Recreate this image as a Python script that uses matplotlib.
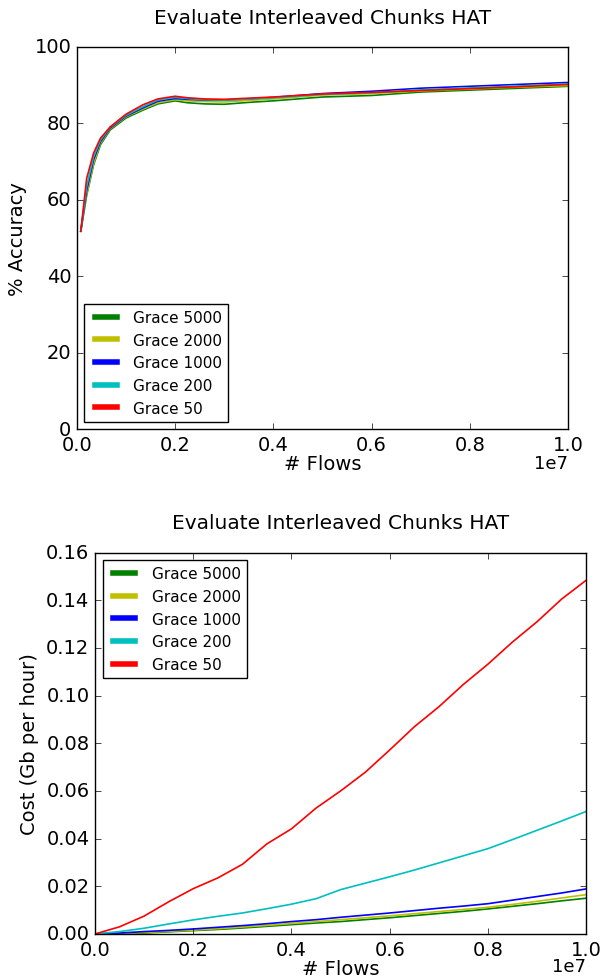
import matplotlib
matplotlib.use('Agg')
import matplotlib.pyplot as plt

plt.style.use('classic')

# top chart: accuracy vs flows
acc_x = [0.008, 0.02, 0.034, 0.048, 0.068, 0.1, 0.135, 0.165, 0.2, 0.225, 0.26,
         0.3, 0.35, 0.4, 0.45, 0.5, 0.55, 0.6, 0.7, 0.8, 0.9, 1.0]
acc_5000 = [51.8, 61.2, 69.1, 74.4, 78.3, 81.4, 83.5, 85.1, 85.9, 85.4, 85.1,
            85.0, 85.5, 85.9, 86.4, 86.9, 87.1, 87.3, 88.2, 88.7, 89.2, 89.7]
acc_2000 = [51.8, 61.5, 69.5, 74.8, 78.6, 81.7, 83.8, 85.4, 86.2, 85.9, 85.7,
            85.6, 86.0, 86.4, 86.9, 87.4, 87.6, 87.8, 88.5, 89.0, 89.5, 89.9]
acc_1000 = [51.8, 62.5, 70.5, 75.2, 78.8, 81.9, 84.1, 85.8, 86.5, 86.3, 86.1,
            86.1, 86.4, 86.8, 87.3, 87.8, 88.1, 88.4, 89.2, 89.7, 90.2, 90.7]
acc_200 = [51.8, 63.5, 71.2, 75.6, 79.0, 82.1, 84.4, 86.1, 86.8, 86.5, 86.2,
           86.1, 86.4, 86.7, 87.1, 87.6, 87.8, 88.0, 88.8, 89.3, 89.8, 90.3]
acc_50 = [51.8, 65.6, 72.2, 76.1, 79.1, 82.4, 84.9, 86.4, 87.1, 86.7, 86.4,
          86.3, 86.6, 86.9, 87.3, 87.7, 87.9, 88.1, 88.6, 89.1, 89.6, 90.2]

# bottom chart: cost vs flows
cost_x = [0, 0.05, 0.1, 0.15, 0.2, 0.25, 0.3, 0.35, 0.4, 0.45, 0.5,
          0.55, 0.6, 0.65, 0.7, 0.75, 0.8, 0.85, 0.9, 0.95, 1.0]
cost_5000 = [0, 0.0001, 0.0004, 0.0009, 0.0014, 0.0019, 0.0025, 0.0032, 0.0039, 0.0046, 0.0052,
             0.0060, 0.0068, 0.0077, 0.0086, 0.0095, 0.0105, 0.0116, 0.0127, 0.0139, 0.0150]
cost_2000 = [0, 0.0002, 0.0006, 0.0011, 0.0016, 0.0022, 0.0029, 0.0036, 0.0044, 0.0052, 0.0060,
             0.0068, 0.0076, 0.0085, 0.0094, 0.0103, 0.0112, 0.0124, 0.0137, 0.0151, 0.0165]
cost_1000 = [0, 0.0004, 0.0010, 0.0015, 0.0021, 0.0028, 0.0035, 0.0043, 0.0052, 0.0060, 0.0070,
             0.0079, 0.0088, 0.0098, 0.0108, 0.0117, 0.0127, 0.0142, 0.0157, 0.0172, 0.0189]
cost_200 = [0, 0.0010, 0.0024, 0.0042, 0.0059, 0.0074, 0.0088, 0.0106, 0.0125, 0.0148, 0.0186,
            0.0213, 0.0240, 0.0268, 0.0298, 0.0328, 0.0358, 0.0396, 0.0435, 0.0474, 0.0514]
cost_50 = [0, 0.0030, 0.0075, 0.0135, 0.0190, 0.0235, 0.0292, 0.0378, 0.0441, 0.0528, 0.0600,
           0.0678, 0.0772, 0.0869, 0.0953, 0.1047, 0.1132, 0.1225, 0.1310, 0.1405, 0.1484]

labels = ['Grace 5000', 'Grace 2000', 'Grace 1000', 'Grace 200', 'Grace 50']
colors = ['g', 'y', 'b', 'c', 'r']
x_scale = 1e7

fig = plt.figure(figsize=(6.05, 9.78), dpi=100, facecolor='white')


def style_axes(ax, ylabel, legend_loc, offset_y):
    ax.set_xlim(0, x_scale)
    ax.set_title('Evaluate Interleaved Chunks HAT', fontsize=14.5, y=1.045)
    ax.set_xlabel('# Flows', fontsize=14, labelpad=0)
    ax.set_ylabel(ylabel, fontsize=14)
    ax.tick_params(labelsize=14)
    # offset text placed by hand so it stays inside the figure
    ax.xaxis.get_offset_text().set_visible(False)
    ax.text(1.0, offset_y, '1e7', transform=ax.transAxes, ha='right',
            va='center', fontsize=13)
    leg = ax.legend(loc=legend_loc, fontsize=11)
    for l in leg.get_lines():
        l.set_linewidth(4)


ax1 = fig.add_axes([0.127, 0.560, 0.812, 0.391])
for ys, lab, c in zip([acc_5000, acc_2000, acc_1000, acc_200, acc_50], labels, colors):
    ax1.plot([v * x_scale for v in acc_x], ys, color=c, label=lab, lw=1.2)
ax1.set_ylim(0, 100)
style_axes(ax1, '% Accuracy', 'lower left', -0.087)

ax2 = fig.add_axes([0.157, 0.044, 0.812, 0.390])
for ys, lab, c in zip([cost_5000, cost_2000, cost_1000, cost_200, cost_50], labels, colors):
    ax2.plot([v * x_scale for v in cost_x], ys, color=c, label=lab, lw=1.2)
ax2.set_ylim(0, 0.16)
style_axes(ax2, 'Cost (Gb per hour)', 'upper left', -0.083)

fig.savefig('out.png', dpi=100, facecolor='white')
